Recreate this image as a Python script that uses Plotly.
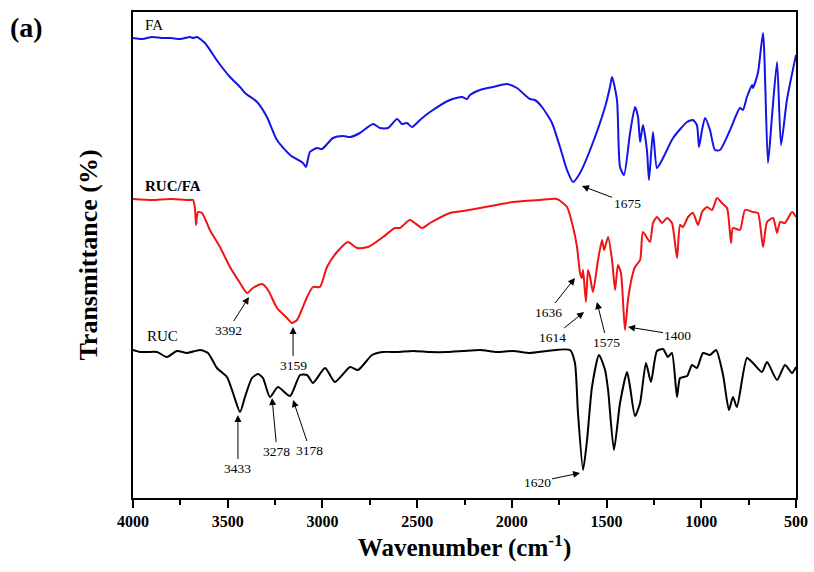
import plotly.graph_objects as go

# FA (blue)
fa_wn = [4000,3950,3900,3850,3800,3750,3700,3683,3662,3620,3551,3488,3435,3409,3345,3293,3240,3171,3103,3087,3066,3029,3002,2944,2891,2854,2802,2733,2696,2654,2606,2580,2554,2527,2485,2432,2327,2263,2237,2221,2168,2100,2026,1973,1931,1904,1878,1841,1788,1746,1709,1677,1640,1587,1508,1482,1471,1445,1429,1408,1376,1350,1334,1323,1308,1287,1276,1255,1234,1207,1149,1075,1044,1023,1012,996,980,954,928,901,848,796,780,759,732,727,701,674,648,627,600,579,548,500]
fa_t = [460,459,461,460,460,459,461,460,461,455,436,421,411,405,396,381,358,343,335,331,346,350,349,360,362,361,365,374,370,370,379,374,375,371,378,386,398,401,399,403,408,411,414,410,403,399,398,391,375,351,328,316,325,348,391,411,421,398,331,323,365,391,381,356,373,348,318,366,330,338,360,376,378,373,351,368,380,368,348,348,368,390,388,401,413,410,425,465,335,381,436,353,398,443]

# RUC/FA (red)
rf_wn = [4000,3900,3800,3700,3683,3673,3667,3657,3636,3594,3541,3488,3435,3398,3367,3319,3287,3240,3187,3161,3134,3081,3050,3013,2976,2923,2865,2817,2759,2680,2617,2590,2538,2474,2432,2327,2258,2168,1994,1851,1762,1709,1677,1656,1640,1630,1624,1609,1598,1587,1572,1545,1524,1513,1492,1471,1455,1440,1424,1403,1387,1366,1350,1323,1308,1271,1255,1234,1207,1181,1155,1128,1112,1097,1070,1044,1017,996,970,943,917,891,864,843,833,796,769,727,701,674,653,621,600,584,558,521,500]
rf_t = [299,298,299,298,298,290,273,286,285,268,251,231,215,205,210,214,208,190,180,175,178,201,211,211,231,246,256,250,251,261,270,270,278,270,275,285,287,290,296,298,299,291,271,251,225,220,228,196,228,221,206,238,258,248,261,238,208,233,225,168,198,221,231,238,266,256,275,281,275,280,275,240,273,271,281,285,273,286,291,288,300,295,290,255,270,268,288,286,285,251,276,280,265,276,275,286,281]

# RUC (black)
ruc_wn = [4000,3963,3926,3873,3821,3768,3715,3646,3604,3557,3504,3472,3435,3409,3372,3340,3314,3277,3235,3171,3118,3081,3050,2986,2934,2854,2812,2738,2680,2606,2522,2432,2342,2258,2168,2078,1994,1904,1814,1693,1667,1651,1624,1603,1577,1540,1508,1492,1461,1429,1392,1376,1350,1323,1292,1266,1234,1202,1176,1155,1128,1112,1075,1049,1023,991,954,922,885,854,833,812,759,727,680,653,600,558,521,500]
ruc_t = [148,146,146,146,141,147,145,148,145,130,121,105,86,101,120,124,120,101,111,102,123,123,115,130,116,131,128,143,146,146,147,146,146,147,148,146,147,145,147,148,135,85,28,58,111,143,128,108,48,95,126,111,82,95,135,116,147,149,141,145,101,120,122,133,130,145,143,148,123,88,101,91,140,135,126,136,118,133,125,131]

# peak labels: text, arrow head (wn, T), text position (wn, T)
peak_text = ["1675","1636","1614","1575","1400","1620","3433","3278","3178","3159","3392"]
peak_head_wn = [1630,1667,1619,1551,1387,1640,3446,3266,3155,3155,3388]
peak_head_t = [312,220,186,196,171,25,83,100,98,171,201]
peak_txt_wn = [1392,1809,1783,1498,1123,1867,3446,3240,3066,3155,3498]
peak_txt_t = [295,186,161,156,163,16,30,47,48,133,168]

series_names = ["FA", "RUC/FA", "RUC"]
series_label_wn = [3889, 3789, 3842]
series_label_t = [473, 312, 162]

x_ticks = [4000, 3500, 3000, 2500, 2000, 1500, 1000, 500]
x_minor = [3750, 3250, 2750, 2250, 1750, 1250, 750]

FONT = "Liberation Serif, Times New Roman, serif"

fig = go.Figure()
for wn, t, col, name in [(fa_wn, fa_t, "#1414e6", "FA"), (rf_wn, rf_t, "#f01414", "RUC/FA"), (ruc_wn, ruc_t, "#000000", "RUC")]:
    fig.add_trace(go.Scatter(x=wn, y=t, mode="lines", name=name,
                             line=dict(color=col, width=2, shape="spline", smoothing=0.6),
                             showlegend=False, hoverinfo="skip"))

ann = []
for txt, hx, hy, tx, ty in zip(peak_text, peak_head_wn, peak_head_t, peak_txt_wn, peak_txt_t):
    ann.append(dict(x=hx, y=hy, ax=tx, ay=ty, xref="x", yref="y", axref="x", ayref="y",
                    text=txt, showarrow=True, arrowhead=2, arrowsize=1.4, arrowwidth=1,
                    arrowcolor="black", standoff=0, startstandoff=0,
                    font=dict(family=FONT, size=13.5, color="black")))
for name, wx, ty in zip(series_names, series_label_wn, series_label_t):
    ann.append(dict(x=wx, y=ty, xref="x", yref="y", showarrow=False,
                    text=("<b>%s</b>" % name) if name == "RUC/FA" else name,
                    font=dict(family=FONT, size=15, color="black")))
ann.append(dict(x=-0.160, y=0.969, xref="paper", yref="paper", showarrow=False, text="<b>(a)</b>",
                xanchor="center", yanchor="middle",
                font=dict(family=FONT, size=28, color="black")))

fig.update_layout(
    width=814, height=572,
    margin=dict(l=133, r=18, t=12, b=74, autoexpand=False),
    plot_bgcolor="white", paper_bgcolor="white",
    annotations=ann,
    xaxis=dict(range=[4000, 500], tickvals=x_ticks, automargin=False,
               ticks="outside", ticklen=8, tickwidth=1.5, tickcolor="black",
               minor=dict(tickvals=x_minor, ticks="outside", ticklen=5, tickwidth=1.5, tickcolor="black"),
               showline=True, linecolor="black", linewidth=1.5, mirror=True, showgrid=False, zeroline=False,
               tickfont=dict(family=FONT, size=16, color="black", weight="bold"),
               title=dict(text="<b>Wavenumber (cm<sup>-1</sup>)</b>", font=dict(family=FONT, size=25, color="black"), standoff=6)),
    yaxis=dict(range=[0, 486], showticklabels=False, ticks="", showline=True, linecolor="black", automargin=False,
               linewidth=1.5, mirror=True, showgrid=False, zeroline=False,
               title=dict(text="<b>Transmittance (%)</b>", font=dict(family=FONT, size=26, color="black"), standoff=26)),
)

# remove the default 8px page margin so the figure fills the 814x572 window exactly
fig.write_html("out.html", config={"displayModeBar": False},
               post_script="document.body.style.margin='0';document.body.style.overflow='hidden';")
